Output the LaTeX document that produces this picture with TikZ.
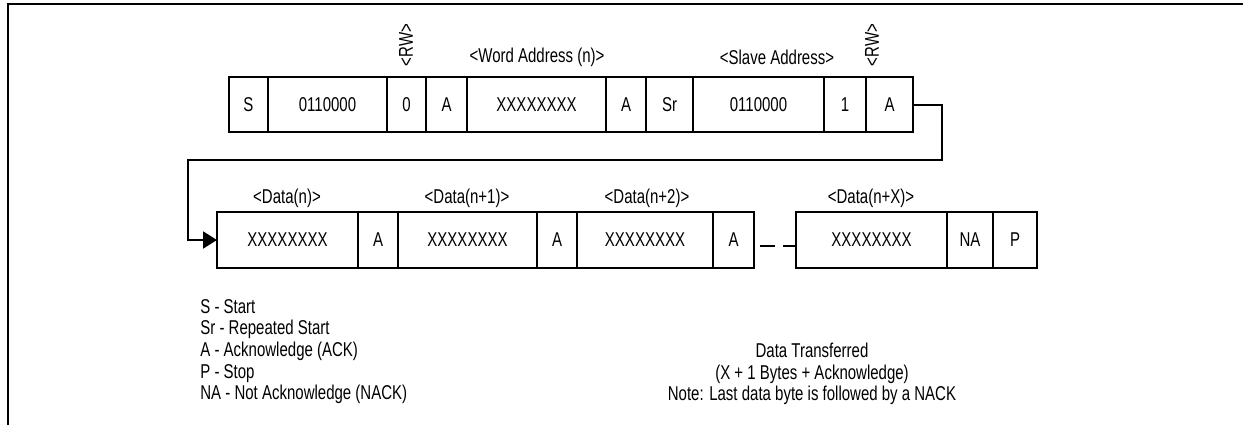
\documentclass[tikz,border=0pt]{standalone}
\usepackage{fontspec}
\setmainfont{Liberation Sans}[FakeStretch=0.75]
\usetikzlibrary{positioning,arrows.meta}

\tikzset{
  cell/.style={draw, line width=1pt, minimum height=27.5pt, inner sep=0pt, outer sep=0pt,
    font=\fontsize{10}{11}\selectfont},
  tag/.style={inner sep=0pt, font=\fontsize{10}{10.8}\selectfont},
  flow/.style={line width=1pt, -{Triangle[length=7pt,width=8.5pt]}},
}

\begin{document}
\begin{tikzpicture}[x=0.5pt, y=-0.5pt]
    \useasboundingbox (0,0) rectangle (1243,425);
    \draw [line width=1.3pt] (8,425) -- (8,4) -- (1243,4);
    % write: slave address, word address, repeated start
    \node [cell, minimum width=19.5pt, anchor=north west] (s) at (229,77) {S};
    \node [cell, minimum width=59.5pt, right=0pt of s] (addr1) {0110000};
    \node [cell, minimum width=19.5pt, right=0pt of addr1] (rw1) {0};
    \node [cell, minimum width=20.5pt, right=0pt of rw1] (ack1) {A};
    \node [cell, minimum width=69.5pt, right=0pt of ack1] (word) {XXXXXXXX};
    \node [cell, minimum width=20pt, right=0pt of word] (ack2) {A};
    \node [cell, minimum width=23.5pt, right=0pt of ack2] (sr) {Sr};
    \node [cell, minimum width=65.5pt, right=0pt of sr] (addr2) {0110000};
    \node [cell, minimum width=21pt, right=0pt of addr2] (rw2) {1};
    \node [cell, minimum width=23.5pt, right=0pt of rw2] (ack3) {A};
    \node [tag, rotate=90] (rwtag1) at (406,45) {<RW>};
    \node [tag, rotate=90] (rwtag2) at (872,45) {<RW>};
    \node [tag] (wordtag) at (537,57) {<Word Address (n)>};
    \node [tag] (slavetag) at (777,57) {<Slave Address>};
    % read: data bytes
    \node [cell, minimum width=70.5pt, minimum height=28pt, anchor=north west] (d1) at (217,212) {XXXXXXXX};
    \node [cell, minimum width=20pt, minimum height=28pt, right=0pt of d1] (a1) {A};
    \node [cell, minimum width=69.5pt, minimum height=28pt, right=0pt of a1] (d2) {XXXXXXXX};
    \node [cell, minimum width=20pt, minimum height=28pt, right=0pt of d2] (a2) {A};
    \node [cell, minimum width=68pt, minimum height=28pt, right=0pt of a2] (d3) {XXXXXXXX};
    \node [cell, minimum width=20.5pt, minimum height=28pt, right=0pt of d3] (a3) {A};
    \node [cell, minimum width=75.5pt, minimum height=28pt, anchor=north west] (dx) at (796,212) {XXXXXXXX};
    \node [cell, minimum width=23pt, minimum height=28pt, right=0pt of dx] (na) {NA};
    \node [cell, minimum width=22pt, minimum height=28pt, right=0pt of na] (p) {P};
    \node [tag] (dtag1) at (287,198) {<Data(n)>};
    \node [tag] (dtag2) at (467,198) {<Data(n+1)>};
    \node [tag] (dtag3) at (647,198) {<Data(n+2)>};
    \node [tag] (dtagx) at (871,198) {<Data(n+X)>};
    % wrap-around connector
    \coordinate (bendR) at (942,160);
    \coordinate (bendL) at (188,240);
    \draw [flow] (ack3.east) -| (bendR) -| (bendL) -- (d1.west);
    \draw [line width=1pt, dash pattern=on 7.5pt off 4pt] ([xshift=3pt,yshift=-3pt]a3.east) -- ([yshift=-3pt]dx.west);
    % legend and note
    \node [tag, anchor=north west, align=left] (legend) at (200,299) {S - Start\\Sr - Repeated Start\\A - Acknowledge (ACK)\\P - Stop\\NA - Not Acknowledge (NACK)};
    \node [tag, align=center] (note) at (812,374) {Data Transferred\\(X + 1 Bytes + Acknowledge)\\Note: Last data byte is followed by a NACK};
\end{tikzpicture}
\end{document}
